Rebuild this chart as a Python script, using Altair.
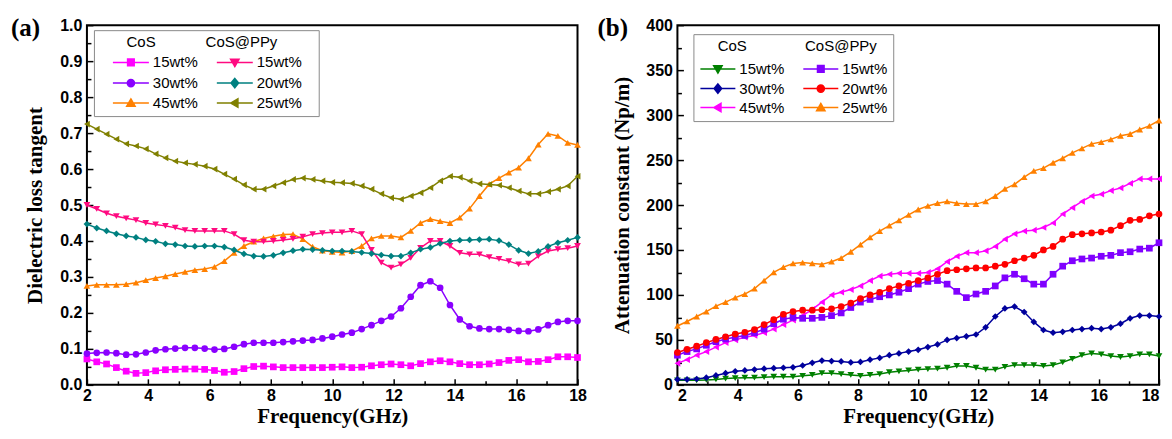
import altair as alt
import pandas as pd

# ---------------- data ----------------
freq = [2.0, 2.32, 2.64, 2.96, 3.28, 3.6, 3.92, 4.24, 4.56, 4.88,
        5.2, 5.52, 5.84, 6.16, 6.48, 6.8, 7.12, 7.44, 7.76, 8.08,
        8.4, 8.72, 9.04, 9.36, 9.68, 10.0, 10.32, 10.64, 10.96, 11.28,
        11.6, 11.92, 12.24, 12.56, 12.88, 13.2, 13.52, 13.84, 14.16, 14.48,
        14.8, 15.12, 15.44, 15.76, 16.08, 16.4, 16.72, 17.04, 17.36, 17.68, 18.0]

# Panel (a): dielectric loss tangent
a_cos15 = [0.072, 0.064, 0.058, 0.048, 0.038, 0.032, 0.034, 0.039, 0.042, 0.043,
           0.044, 0.044, 0.043, 0.040, 0.035, 0.037, 0.045, 0.051, 0.052, 0.050,
           0.048, 0.048, 0.048, 0.048, 0.048, 0.049, 0.050, 0.048, 0.049, 0.053,
           0.056, 0.058, 0.056, 0.053, 0.059, 0.064, 0.067, 0.064, 0.059, 0.056,
           0.056, 0.058, 0.062, 0.068, 0.070, 0.064, 0.065, 0.070, 0.078, 0.078, 0.076]
a_cos30 = [0.087, 0.089, 0.090, 0.088, 0.084, 0.085, 0.090, 0.096, 0.099, 0.101,
           0.103, 0.103, 0.101, 0.098, 0.100, 0.106, 0.113, 0.117, 0.117, 0.117,
           0.119, 0.121, 0.123, 0.125, 0.129, 0.134, 0.140, 0.145, 0.155, 0.166,
           0.178, 0.190, 0.213, 0.245, 0.277, 0.288, 0.270, 0.222, 0.182, 0.163,
           0.157, 0.155, 0.155, 0.153, 0.150, 0.149, 0.154, 0.166, 0.175, 0.178, 0.178]
a_cos45 = [0.275, 0.278, 0.278, 0.278, 0.280, 0.284, 0.291, 0.297, 0.302, 0.308,
           0.314, 0.319, 0.322, 0.328, 0.344, 0.367, 0.386, 0.398, 0.407, 0.413,
           0.418, 0.419, 0.405, 0.384, 0.373, 0.370, 0.368, 0.372, 0.386, 0.407,
           0.414, 0.414, 0.410, 0.428, 0.450, 0.461, 0.455, 0.450, 0.465, 0.490,
           0.525, 0.558, 0.575, 0.590, 0.604, 0.630, 0.668, 0.698, 0.692, 0.673, 0.667]
a_ppy15 = [0.500, 0.489, 0.477, 0.469, 0.463, 0.458, 0.450, 0.446, 0.442, 0.437,
           0.430, 0.428, 0.428, 0.428, 0.428, 0.419, 0.402, 0.398, 0.398, 0.400,
           0.403, 0.406, 0.412, 0.419, 0.422, 0.424, 0.424, 0.428, 0.419, 0.375,
           0.340, 0.326, 0.335, 0.353, 0.381, 0.400, 0.400, 0.386, 0.367, 0.363,
           0.363, 0.355, 0.350, 0.344, 0.335, 0.337, 0.358, 0.372, 0.377, 0.380, 0.386]
a_ppy20 = [0.447, 0.436, 0.428, 0.420, 0.414, 0.410, 0.403, 0.399, 0.392, 0.390,
           0.386, 0.385, 0.386, 0.386, 0.383, 0.375, 0.364, 0.358, 0.357, 0.360,
           0.367, 0.373, 0.377, 0.376, 0.374, 0.372, 0.372, 0.371, 0.368, 0.365,
           0.361, 0.358, 0.358, 0.367, 0.377, 0.382, 0.393, 0.400, 0.402, 0.403,
           0.404, 0.405, 0.401, 0.390, 0.374, 0.365, 0.371, 0.385, 0.395, 0.402, 0.410]
a_ppy25 = [0.725, 0.711, 0.697, 0.683, 0.670, 0.664, 0.656, 0.642, 0.631, 0.622,
           0.617, 0.613, 0.608, 0.600, 0.586, 0.572, 0.556, 0.544, 0.544, 0.553,
           0.562, 0.571, 0.575, 0.571, 0.567, 0.563, 0.562, 0.560, 0.553, 0.544,
           0.531, 0.520, 0.516, 0.525, 0.534, 0.548, 0.567, 0.580, 0.577, 0.567,
           0.559, 0.557, 0.555, 0.548, 0.539, 0.531, 0.531, 0.537, 0.544, 0.553, 0.580]

# Panel (b): attenuation constant
b_cos15 = [5, 5, 5, 5.5, 6, 7, 7.5, 8, 8, 8.5,
           9, 9, 9, 10, 11, 13, 13, 12, 11, 10,
           11, 12, 14, 15, 16, 17, 17.5, 18, 19, 21,
           21, 19, 17, 17, 20, 22, 22, 22, 21, 22,
           25, 29, 33, 35, 34, 32, 31, 32, 34, 34, 32]
b_cos30 = [6, 6, 6.5, 8, 10.5, 13, 15, 16, 17, 18,
           18.5, 19, 19.5, 21.5, 24.5, 27, 26.5, 26, 25, 25.5,
           28, 30, 33, 35, 37, 39, 42, 45, 50, 52,
           54, 56, 64, 76, 85, 87, 81, 70, 61, 58,
           59, 61, 62, 63, 62, 64, 68, 74, 77, 77, 76]
b_cos45 = [24, 28, 33, 37, 42, 47, 50, 53, 55, 58,
           62, 67, 72, 77, 84, 92, 100, 103, 106, 110,
           116, 121, 123, 124, 124, 124, 125, 129, 137, 143,
           147, 147, 149, 154, 162, 168, 171, 172, 175, 180,
           190, 197, 204, 210, 212, 216, 219, 224, 229, 229, 229]
b_ppy15 = [33, 37, 40, 44, 48, 51, 53, 55, 58, 62,
           68, 73, 75, 74, 74, 75, 77, 80, 86, 92,
           95, 98, 100, 103, 107, 112, 115, 116, 112, 104,
           97, 101, 104, 110, 119, 123, 118, 112, 112, 123,
           132, 138, 140, 141, 143, 144, 147, 148, 151, 152, 158]
b_ppy20 = [36, 39.5, 43, 47, 50.5, 53.5, 56.5, 58.5, 61.5, 67,
           72.5, 78.5, 81.5, 83, 83, 83.5, 84.5, 87, 91, 96,
           100, 103, 107, 110, 113, 116, 119, 123, 127, 128,
           129, 130, 130, 132, 134, 138, 141, 144, 150, 154,
           162, 167, 168, 169, 170, 172, 177, 183, 184, 188, 190]
b_ppy25 = [65.5, 70.5, 76, 81.5, 87.5, 92, 97, 101, 107, 116,
           125, 131, 135, 136, 135, 134, 137, 141, 148, 156,
           164, 171, 177, 183, 189, 195, 199, 202, 204, 202,
           201, 201, 204, 210, 218, 223, 231, 238, 241, 247,
           252, 258, 263, 268, 270, 273, 277, 279, 284, 288, 294]

# series keys (legend is filled column by column: CoS left, CoS@PPy right)
series_keys = ["CoS|15wt%", "CoS|30wt%", "CoS|45wt%", "CoS@PPy|15wt%", "CoS@PPy|20wt%", "CoS@PPy|25wt%"]

a_values = [a_cos15, a_cos30, a_cos45, a_ppy15, a_ppy20, a_ppy25]
a_colors = ["#FF00FF", "#8A00FF", "#FF8000", "#FF0A80", "#008080", "#808000"]
a_shapes = ["square", "circle", "triangle-up", "triangle-down", "diamond", "triangle-left"]

b_values = [b_cos15, b_cos30, b_cos45, b_ppy15, b_ppy20, b_ppy25]
b_colors = ["#008000", "#00009C", "#FF00FF", "#8000FF", "#FF0000", "#FF8000"]
b_shapes = ["triangle-down", "diamond", "triangle-left", "square", "circle", "triangle-up"]

x_major = [2, 4, 6, 8, 10, 12, 14, 16, 18]
x_minor = [3, 5, 7, 9, 11, 13, 15, 17]
a_y_major = [0.0, 0.1, 0.2, 0.3, 0.4, 0.5, 0.6, 0.7, 0.8, 0.9, 1.0]
a_y_minor = [0.05, 0.15, 0.25, 0.35, 0.45, 0.55, 0.65, 0.75, 0.85, 0.95]
b_y_major = [0, 50, 100, 150, 200, 250, 300, 350, 400]
b_y_minor = [25, 75, 125, 175, 225, 275, 325, 375]

SANS = "Liberation Sans"
SERIF = "Liberation Serif"
U = 5.0  # legend symbol path unit in px (sqrt(100)/2)
PLOT_H = 360

MARKER_PATHS = {
    "square": "M-0.66,-0.66H0.66V0.66H-0.66Z",
    "circle": "M-0.72,0A0.72,0.72,0,1,0,0.72,0A0.72,0.72,0,1,0,-0.72,0Z",
    "triangle-up": "M0,-0.84L0.84,0.62L-0.84,0.62Z",
    "triangle-down": "M0,0.84L0.84,-0.62L-0.84,-0.62Z",
    "diamond": "M0,-0.92L0.76,0L0,0.92L-0.76,0Z",
    "triangle-left": "M-0.84,0L0.62,-0.84L0.62,0.84Z",
}


def legend_path(shape, half_px, left_px, right_px):
    parts = []
    if left_px:
        parts.append(f"M{-left_px / U:.2f},0")
    parts.append(f"M{-half_px / U:.2f},0L{half_px / U:.2f},0")
    parts.append(MARKER_PATHS[shape])
    if right_px:
        parts.append(f"M{right_px / U:.2f},0")
    return "".join(parts)


def make_panel(values, colors, shapes, ymax, y_major, y_minor, yfmt, ytitle, tag,
               width, lg):
    rows = []
    for key, vals in zip(series_keys, values):
        for f, v in zip(freq, vals):
            rows.append({"f": f, "v": v, "s": key})
    df = pd.DataFrame(rows)

    xs = alt.Scale(domain=[2, 18], nice=False, zero=False)
    ys = alt.Scale(domain=[0, ymax], nice=False, zero=False)
    cs = alt.Scale(domain=series_keys, range=colors)

    paths = [legend_path(sh, lg["half"], lg["center"], lg["right_ext"] if i >= 3 else 0)
             for i, sh in enumerate(shapes)]

    legend = alt.Legend(
        title=lg["title"], orient="none", legendX=lg["lx"], legendY=lg["ly"],
        columns=2, columnPadding=lg["colpad"], rowPadding=lg["rowpad"], gridAlign="each",
        titlePadding=lg["tpad"], padding=5, strokeColor="#8a8a8a", fillColor="white",
        symbolSize=100, symbolOffset=lg["center"] - 7.5, labelOffset=lg["loff"],
        labelExpr="split(datum.label, '|')[1]", labelFont=SANS, labelFontSize=15,
        labelColor="black", titleFont=SANS, titleFontSize=15, titleFontWeight="normal",
        titleColor="black", titleLimit=400, symbolStrokeWidth=1.5, symbolOpacity=1,
    )

    base = alt.Chart(df)
    # helper layers only carry axes / legend: keep their (invisible) marks mid-plot
    mid = base.transform_filter("datum.f == 10")

    lines = base.mark_line(strokeWidth=1.5).encode(
        x=alt.X("f:Q", scale=xs, axis=alt.Axis(
            orient="bottom", values=x_major, format="d", title="Frequency(GHz)",
            ticks=False, tickSize=0, domain=False, grid=False, labelFlush=lg["xflush"],
            labelPadding=3, titlePadding=2)),
        y=alt.Y("v:Q", scale=ys, axis=alt.Axis(
            orient="left", values=y_major, format=yfmt, title=ytitle,
            ticks=False, tickSize=0, domain=False, grid=False, labelFlush=False,
            labelPadding=5, titlePadding=lg["ytpad"])),
        color=alt.Color("s:N", scale=cs, legend=None),
        detail="s:N",
    )
    points = base.mark_point(filled=True, size=45, opacity=1).encode(
        x=alt.X("f:Q", scale=xs, axis=alt.Axis(
            orient="bottom", values=x_major, labels=False, domain=False, grid=False,
            ticks=True, tickSize=6, tickWidth=1.5, tickColor="black", offset=-6, title=None)),
        y=alt.Y("v:Q", scale=ys, axis=alt.Axis(
            orient="left", values=y_major, labels=False, domain=False, grid=False,
            ticks=True, tickSize=6, tickWidth=1.5, tickColor="black", offset=-6, title=None)),
        color=alt.Color("s:N", scale=cs, legend=None),
        shape=alt.Shape("s:N", scale=alt.Scale(domain=series_keys, range=shapes), legend=None),
    )
    minor = mid.mark_point(opacity=0).encode(
        x=alt.X("f:Q", scale=xs, axis=alt.Axis(
            orient="bottom", values=x_minor, labels=False, domain=False, grid=False,
            ticks=True, tickSize=4, tickWidth=1.5, tickColor="black", offset=-4, title=None)),
        y=alt.Y("v:Q", scale=ys, axis=alt.Axis(
            orient="left", values=y_minor, labels=False, domain=False, grid=False,
            ticks=True, tickSize=4, tickWidth=1.5, tickColor="black", offset=-4, title=None)),
    )
    leg_layer = mid.mark_point(filled=True, size=100, opacity=0, strokeWidth=1.5).encode(
        x=alt.X("f:Q", scale=xs, axis=None),
        y=alt.Y("v:Q", scale=ys, axis=None),
        fill=alt.Fill("s:N", scale=cs, legend=legend),
        stroke=alt.Stroke("s:N", scale=cs, legend=legend),
        shape=alt.Shape("s:N", scale=alt.Scale(domain=series_keys, range=paths), legend=legend),
    )
    tag_layer = alt.Chart(pd.DataFrame({"t": [tag]})).mark_text(
        align="left", baseline="middle", font=SERIF, fontWeight="bold", fontSize=25,
        color="black"
    ).encode(text="t:N", x=alt.value(lg["tag_dx"]), y=alt.value(3))

    return alt.layer(lines, points, minor, leg_layer, tag_layer).resolve_axis(
        x="independent", y="independent"
    ).resolve_scale(
        shape="independent", fill="independent", stroke="independent"
    ).properties(width=width, height=PLOT_H)


NB = "\u00a0"
BL = "\u2800"
lg_a = dict(title=BL + NB * 4 + "CoS" + NB * 12 + "CoS@PPy", lx=7, ly=5, colpad=1, rowpad=4,
            tpad=4.5, center=32, half=18, loff=14.5, right_ext=76, tag_dx=-76, xflush=False,
            ytpad=14)
lg_b = dict(title=BL + NB * 2 + "CoS" + NB * 14 + "CoS@PPy", lx=16, ly=9, colpad=13, rowpad=3,
            tpad=7, center=19.5, half=17.5, loff=14, right_ext=0, tag_dx=-80, xflush=True,
            ytpad=13)

pa = make_panel(a_values, a_colors, a_shapes, 1.0, a_y_major, a_y_minor, ".1f",
                "Dielectric loss tangent", "(a)", 491, lg_a)
pb = make_panel(b_values, b_colors, b_shapes, 400, b_y_major, b_y_minor, "d",
                "Attenuation constant (Np/m)", "(b)", 482, lg_b)

chart = alt.HConcatChart(hconcat=[pa, pb], spacing=100, bounds="flush").resolve_scale(
    color="independent", fill="independent", stroke="independent", shape="independent"
).properties(
    padding={"left": 2, "top": 7, "right": 0, "bottom": 0}, background="white"
).configure_view(
    stroke="black", strokeWidth=2
).configure_axis(
    labelFont=SANS, labelFontWeight="bold", labelFontSize=16, labelColor="black",
    titleFont=SERIF, titleFontWeight="bold", titleFontSize=21, titleColor="black"
)

chart.save("out.html", embed_options={"renderer": "svg", "actions": False})
